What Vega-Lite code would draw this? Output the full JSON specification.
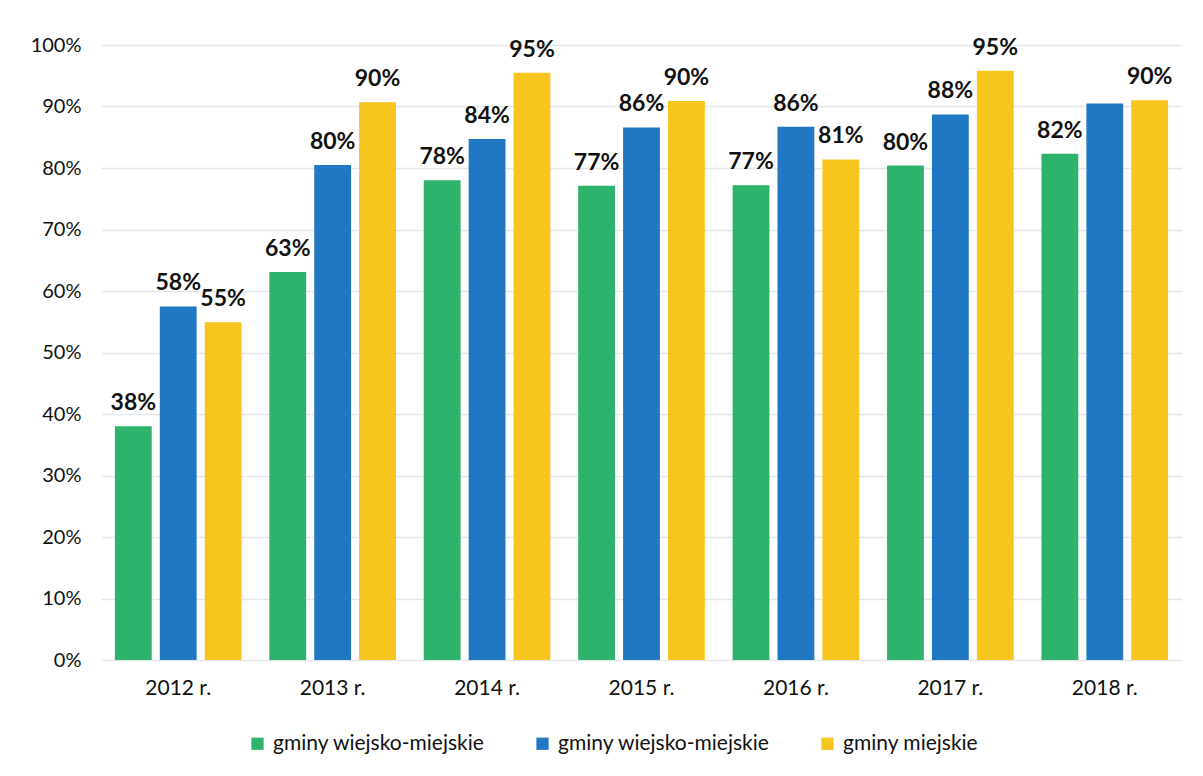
{
  "$schema": "https://vega.github.io/schema/vega-lite/v6.json",
  "autosize": {"type": "none"},
  "width": 1081,
  "height": 615,
  "padding": {"left": 101, "top": 45, "right": 21, "bottom": 116},
  "background": "white",
  "config": {
    "view": {"stroke": null},
    "font": "Lato",
    "axis": {"labelFont": "Lato", "labelFontSize": 20, "labelColor": "#111111"}
  },
  "data": {
    "values": [
      {"rok": "2012 r.", "seria": "gminy wiejskie", "wartosc": 38, "etykieta": "38%"},
      {"rok": "2012 r.", "seria": "gminy wiejsko-miejskie", "wartosc": 57.5, "etykieta": "58%"},
      {"rok": "2012 r.", "seria": "gminy miejskie", "wartosc": 54.9, "etykieta": "55%"},
      {"rok": "2013 r.", "seria": "gminy wiejskie", "wartosc": 63.1, "etykieta": "63%"},
      {"rok": "2013 r.", "seria": "gminy wiejsko-miejskie", "wartosc": 80.5, "etykieta": "80%"},
      {"rok": "2013 r.", "seria": "gminy miejskie", "wartosc": 90.7, "etykieta": "90%"},
      {"rok": "2014 r.", "seria": "gminy wiejskie", "wartosc": 78, "etykieta": "78%"},
      {"rok": "2014 r.", "seria": "gminy wiejsko-miejskie", "wartosc": 84.7, "etykieta": "84%"},
      {"rok": "2014 r.", "seria": "gminy miejskie", "wartosc": 95.5, "etykieta": "95%"},
      {"rok": "2015 r.", "seria": "gminy wiejskie", "wartosc": 77.1, "etykieta": "77%"},
      {"rok": "2015 r.", "seria": "gminy wiejsko-miejskie", "wartosc": 86.6, "etykieta": "86%"},
      {"rok": "2015 r.", "seria": "gminy miejskie", "wartosc": 90.9, "etykieta": "90%"},
      {"rok": "2016 r.", "seria": "gminy wiejskie", "wartosc": 77.2, "etykieta": "77%"},
      {"rok": "2016 r.", "seria": "gminy wiejsko-miejskie", "wartosc": 86.7, "etykieta": "86%"},
      {"rok": "2016 r.", "seria": "gminy miejskie", "wartosc": 81.4, "etykieta": "81%"},
      {"rok": "2017 r.", "seria": "gminy wiejskie", "wartosc": 80.4, "etykieta": "80%"},
      {"rok": "2017 r.", "seria": "gminy wiejsko-miejskie", "wartosc": 88.7, "etykieta": "88%"},
      {"rok": "2017 r.", "seria": "gminy miejskie", "wartosc": 95.8, "etykieta": "95%"},
      {"rok": "2018 r.", "seria": "gminy wiejskie", "wartosc": 82.3, "etykieta": "82%"},
      {"rok": "2018 r.", "seria": "gminy wiejsko-miejskie", "wartosc": 90.5, "etykieta": ""},
      {"rok": "2018 r.", "seria": "gminy miejskie", "wartosc": 91, "etykieta": "90%"}
    ]
  },
  "encoding": {
    "x": {
      "field": "rok", "type": "nominal", "sort": null,
      "scale": {"paddingInner": 0.18, "paddingOuter": 0.09},
      "axis": {"title": null, "labelAngle": 0, "domain": false, "ticks": false, "labelPadding": 17, "grid": false, "labelFontSize": 21}
    },
    "xOffset": {
      "field": "seria", "type": "nominal",
      "scale": {"domain": ["gminy wiejskie", "gminy wiejsko-miejskie", "gminy miejskie"], "paddingInner": 0.18, "paddingOuter": 0}
    },
    "y": {
      "field": "wartosc", "type": "quantitative",
      "scale": {"domain": [0, 100], "nice": false},
      "axis": {
        "title": null, "values": [0, 10, 20, 30, 40, 50, 60, 70, 80, 90, 100],
        "labelExpr": "datum.value + '%'", "domain": false, "ticks": false,
        "labelPadding": 20, "grid": true, "gridColor": "#e3e6ea", "gridWidth": 1.5
      }
    }
  },
  "layer": [
    {
      "mark": {"type": "bar"},
      "encoding": {
        "color": {
          "field": "seria", "type": "nominal",
          "scale": {
            "domain": ["gminy wiejskie", "gminy wiejsko-miejskie", "gminy miejskie"],
            "range": ["#2db36b", "#1f78c1", "#f6c51e"]
          },
          "legend": {
            "title": null, "orient": "none", "direction": "horizontal",
            "legendX": 146, "legendY": 688,
            "symbolType": "square", "symbolSize": 150, "symbolStrokeWidth": 0,
            "labelFont": "Lato", "labelFontSize": 21, "labelColor": "#111111", "labelLimit": 0,
            "labelOffset": 5, "columnPadding": 47,
            "labelExpr": "datum.label == 'gminy wiejskie' ? 'gminy wiejsko-miejskie' : datum.label"
          }
        }
      }
    },
    {
      "mark": {"type": "text", "baseline": "bottom", "dy": -11, "fontSize": 23, "fontWeight": "bold", "font": "Lato", "color": "#111111"},
      "encoding": {"text": {"field": "etykieta"}}
    }
  ]
}
